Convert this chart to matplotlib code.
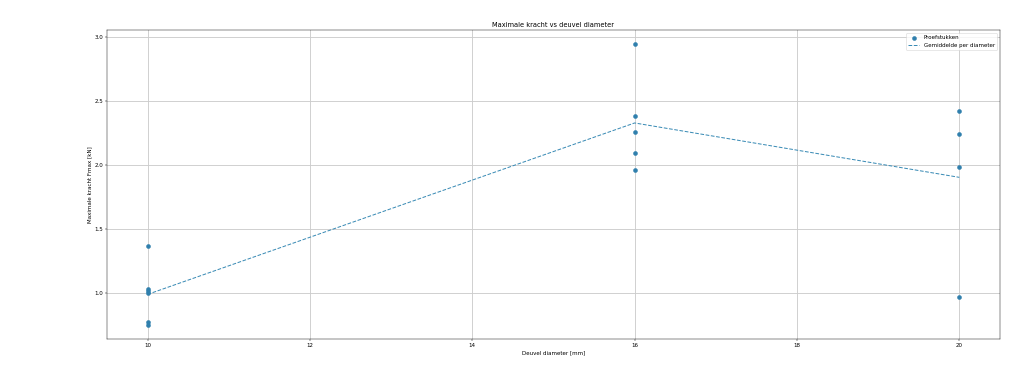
import matplotlib
matplotlib.use('Agg')
import matplotlib.pyplot as plt
import numpy as np

# measured max force per specimen
diam_10 = [1.365, 1.025, 1.01, 1.0, 0.773, 0.745]
diam_16 = [2.943, 2.382, 2.26, 2.092, 1.957]
diam_20 = [2.418, 2.239, 1.986, 0.963]
diameters = [10, 16, 20]

groups = [diam_10, diam_16, diam_20]
x_pts = np.concatenate([[d] * len(g) for d, g in zip(diameters, groups)])
y_pts = np.concatenate(groups)
means = [np.mean(g) for g in groups]

# big figure, low dpi (like the original export)
fig = plt.figure(figsize=(25.6, 9.65), dpi=40)
ax = fig.add_axes([0.1045, 0.121, 0.872, 0.801])

ax.scatter(x_pts, y_pts, s=50, color='#2f7fad', label='Proefstukken', zorder=3)
ax.plot(diameters, means, '--', color='#3a8bb5', lw=1.8, label='Gemiddelde per diameter')

ax.set_xlabel('Deuvel diameter [mm]')
ax.set_ylabel('Maximale kracht Fmax [kN]')
ax.set_title('Maximale kracht vs deuvel diameter')
ax.grid(True, color='#cccccc', lw=1.6)
ax.legend(loc='upper right')

fig.savefig('out.png', dpi=40)
